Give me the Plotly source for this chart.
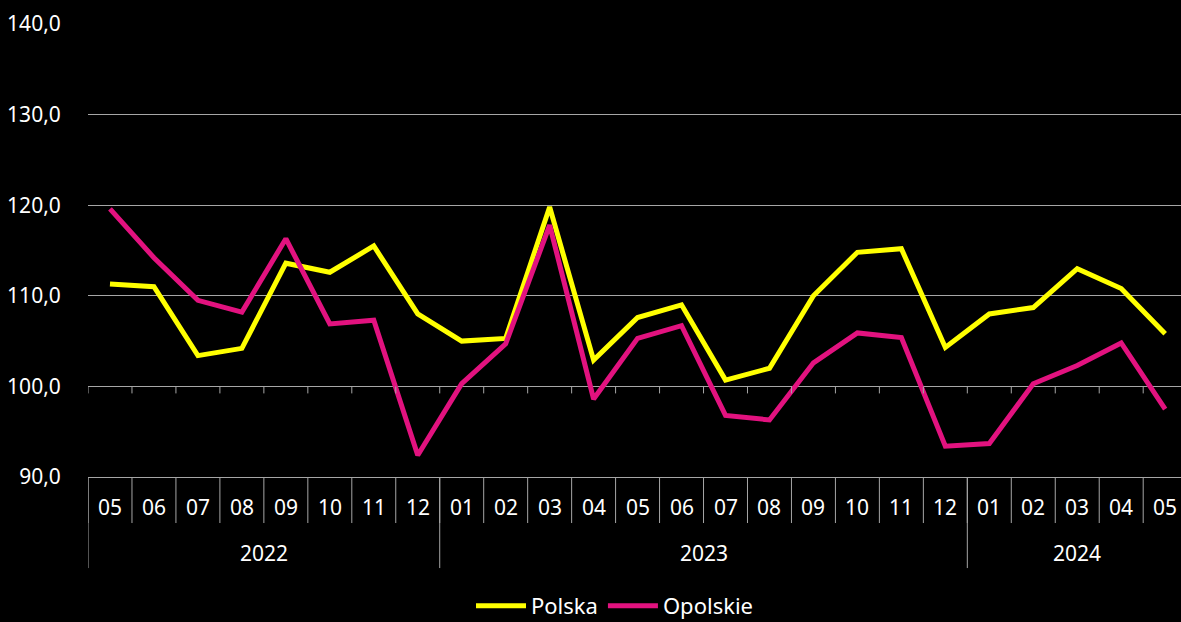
import plotly.graph_objects as go

months = ["05", "06", "07", "08", "09", "10", "11", "12",
          "01", "02", "03", "04", "05", "06", "07", "08", "09", "10", "11", "12",
          "01", "02", "03", "04", "05"]
years = ["2022"] * 8 + ["2023"] * 12 + ["2024"] * 5

polska = [111.3, 111.0, 103.4, 104.2, 113.6, 112.6, 115.5, 108.0,
          105.0, 105.3, 119.8, 102.9, 107.6, 109.0, 100.7, 102.0, 110.0, 114.8, 115.2, 104.3,
          108.0, 108.7, 113.0, 110.8, 105.8]
opolskie = [119.6, 114.2, 109.5, 108.2, 116.3, 106.9, 107.3, 92.4,
            100.3, 104.7, 117.8, 98.6, 105.3, 106.7, 96.8, 96.3, 102.6, 105.9, 105.4, 93.4,
            93.7, 100.3, 102.3, 104.8, 97.5]

y_ticks = [90, 100, 110, 120, 130, 140]

FONT = "Noto Sans"
GRID = "#A6A6A6"
x_idx = list(range(len(months)))

fig = go.Figure()
fig.add_trace(go.Scatter(x=x_idx, y=polska, mode="lines", name="Polska",
                         line=dict(color="#FFFF00", width=5), cliponaxis=False))
fig.add_trace(go.Scatter(x=x_idx, y=opolskie, mode="lines", name="Opolskie",
                         line=dict(color="#E2127F", width=5), cliponaxis=False))

H = 622 - 24 - 145.3  # plot height in px


def py(px):
    """pixel offset below plot bottom -> paper y"""
    return -px / H


shapes = []
# month separators and ticks at axis crossing (100)
for i in range(len(months)):
    b = i - 0.5
    shapes.append(dict(type="line", xref="x", yref="paper", x0=b, x1=b,
                       y0=0, y1=py(46), line=dict(color=GRID, width=1)))
    shapes.append(dict(type="line", xref="x", yref="y", x0=b, x1=b,
                       y0=100, y1=100 - 7 / (H / 50), line=dict(color=GRID, width=1)))
# year separators
prev = None
for i, yv in enumerate(years):
    if yv != prev:
        b = i - 0.5
        shapes.append(dict(type="line", xref="x", yref="paper", x0=b, x1=b,
                           y0=0, y1=py(91), line=dict(color=GRID, width=1)))
    prev = yv

annotations = []
for i, m in enumerate(months):
    annotations.append(dict(x=i, y=py(29.5), xref="x", yref="paper", text=m,
                            showarrow=False, yanchor="middle",
                            font=dict(family=FONT, size=21, color="white")))
groups = {}
for i, yv in enumerate(years):
    groups.setdefault(yv, []).append(i)
for yv, idx in groups.items():
    annotations.append(dict(x=(idx[0] + idx[-1]) / 2, y=py(75.5), xref="x", yref="paper",
                            text=yv, showarrow=False, yanchor="middle",
                            font=dict(family=FONT, size=21, color="white")))

fig.update_layout(
    width=1181, height=622,
    paper_bgcolor="black", plot_bgcolor="black",
    margin=dict(l=88, r=0, t=24, b=145.3),
    separators=", ",
    font=dict(family=FONT, size=21, color="white"),
    xaxis=dict(range=[-0.5, 24.36], showticklabels=False, showgrid=False,
               zeroline=False, showline=True, linecolor=GRID, linewidth=1, ticks=""),
    yaxis=dict(range=[90, 140], tickvals=y_ticks, tickformat=".1f",
               showgrid=True, gridcolor=GRID, gridwidth=1, zeroline=False,
               ticks="outside", ticklen=22, tickcolor="black",
               tickfont=dict(family=FONT, size=21, color="white")),
    showlegend=True,
    legend=dict(orientation="h", xref="container", yref="container",
                x=615 / 1181, xanchor="center", y=16 / 622, yanchor="middle",
                font=dict(family=FONT, size=22, color="white"), bgcolor="rgba(0,0,0,0)",
                itemwidth=50),
    shapes=shapes,
    annotations=annotations,
)

fig.write_html("out.html", config={"displayModeBar": False},
               post_script="document.body.style.margin='0';document.body.style.padding='0';"
                           "document.body.style.background='black';document.body.style.overflow='hidden';")
